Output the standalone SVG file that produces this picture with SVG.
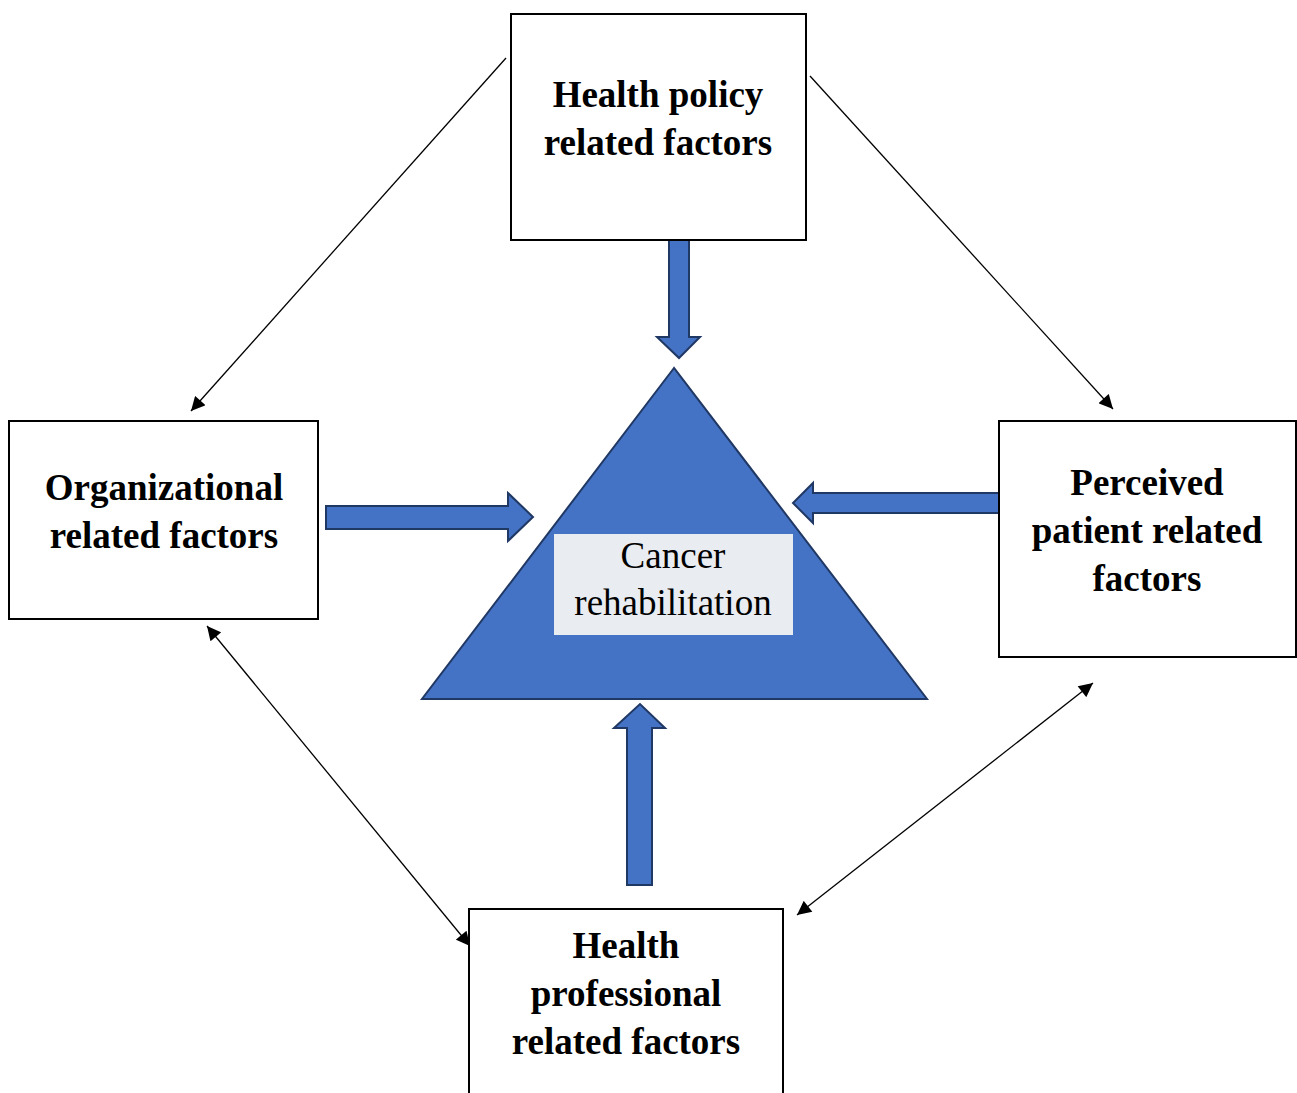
<svg xmlns="http://www.w3.org/2000/svg" width="1297" height="1093" viewBox="0 0 1297 1093">
<style>
.box{fill:#fff;stroke:#000;stroke-width:2}
.t{font-family:"Liberation Serif","Times New Roman",serif;font-size:37px;font-weight:bold;text-anchor:middle;fill:#000}
.r{font-family:"Liberation Serif","Times New Roman",serif;font-size:37px;text-anchor:middle;fill:#000}
.blk{fill:#4472C4;stroke:#203864;stroke-width:2;stroke-linejoin:miter}
.ln{stroke:#000;stroke-width:1.3;fill:none}
</style>
<defs>
<marker id="ah" viewBox="0 0 10 10" refX="10" refY="5" markerWidth="15" markerHeight="14" markerUnits="userSpaceOnUse" orient="auto-start-reverse">
<path d="M0,0 L10,5 L0,10 z" fill="#000"/>
</marker>
</defs>
<rect width="1297" height="1093" fill="#fff"/>
<g id="connectors">
<line class="ln" x1="506" y1="58" x2="191" y2="411" marker-end="url(#ah)"/>
<line class="ln" x1="810" y1="76" x2="1113" y2="409" marker-end="url(#ah)"/>
<line class="ln" x1="207" y1="626" x2="470" y2="946" marker-start="url(#ah)" marker-end="url(#ah)"/>
<line class="ln" x1="1093" y1="683" x2="797" y2="915" marker-start="url(#ah)" marker-end="url(#ah)"/>
<path class="blk" d="M669,238 L689,238 L689,337 L700,337 L679,358 L657,337 L669,337 Z"/>
<path class="blk" d="M326,506 L508,506 L508,493 L533,517 L508,541 L508,529 L326,529 Z"/>
<path class="blk" d="M1004,493 L813,493 L813,483 L793,503 L813,523 L813,513 L1004,513 Z"/>
<path class="blk" d="M627,885 L652,885 L652,728 L665,728 L640,704 L614,728 L627,728 Z"/>
</g>
<g id="center">
<polygon class="blk" points="674,368 422,699 927,699"/>
<rect x="554" y="534" width="239" height="101" fill="#E9ECF1"/>
<text class="r" x="673" y="568">Cancer</text>
<text class="r" x="673" y="615">rehabilitation</text>
</g>
<g id="policy">
<rect class="box" x="511" y="14" width="295" height="226"/>
<text class="t" x="658" y="107">Health policy</text>
<text class="t" x="658" y="155">related factors</text>
</g>
<g id="organizational">
<rect class="box" x="9" y="421" width="309" height="198"/>
<text class="t" x="164" y="500">Organizational</text>
<text class="t" x="164" y="548">related factors</text>
</g>
<g id="patient">
<rect class="box" x="999" y="421" width="297" height="236"/>
<text class="t" x="1147" y="495">Perceived</text>
<text class="t" x="1147" y="543">patient related</text>
<text class="t" x="1147" y="591">factors</text>
</g>
<g id="professional">
<rect class="box" x="469" y="909" width="314" height="200"/>
<text class="t" x="626" y="958">Health</text>
<text class="t" x="626" y="1006">professional</text>
<text class="t" x="626" y="1054">related factors</text>
</g>
</svg>
